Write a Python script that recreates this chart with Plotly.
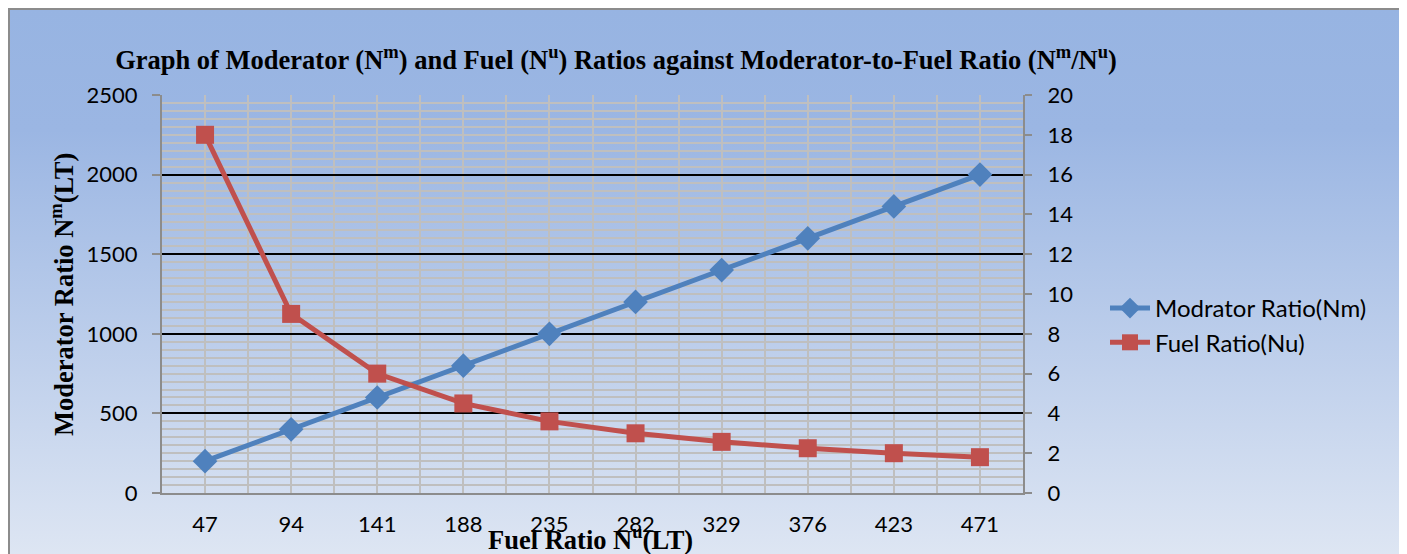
import base64
import plotly.graph_objects as go

categories = ["47", "94", "141", "188", "235", "282", "329", "376", "423", "471"]
moderator = [200, 400, 600, 800, 1000, 1200, 1400, 1600, 1800, 2000]
fuel = [18, 9, 6, 4.5, 3.6, 3, 2.57, 2.25, 2, 1.8]
left_ticks = [0, 500, 1000, 1500, 2000, 2500]
right_ticks = [0, 2, 4, 6, 8, 10, 12, 14, 16, 18, 20]

# page has an 8px body margin, so the figure is slightly smaller than the window
W, H = 1399, 546
L, R, T, B = 154, 1015, 87, 485
pw, ph = R - L, B - T

def px_x(px):
    return (px - L) / pw

def px_y(py):
    return (B - py) / ph

xs = list(range(len(categories)))

svg = (
    '<svg xmlns="http://www.w3.org/2000/svg" width="1399" height="546" viewBox="0 0 1399 546" preserveAspectRatio="none">'
    '<defs><linearGradient id="g" x1="0" y1="0" x2="0" y2="1">'
    '<stop offset="0" stop-color="#97B4E2"/><stop offset="0.22" stop-color="#9BB6E3"/>'
    '<stop offset="1" stop-color="#DEE6F3"/></linearGradient></defs>'
    '<rect x="1" y="1" width="1397" height="550" fill="url(#g)" stroke="#8C8C8C" stroke-width="2"/></svg>'
)
uri = "data:image/svg+xml;base64," + base64.b64encode(svg.encode()).decode()

sans = "Lato, Calibri, sans-serif"
tickfont = dict(family=sans, size=22, color="#000000")
serif = "Liberation Serif, Times New Roman, serif"

fig = go.Figure()
fig.add_trace(go.Scatter(
    x=xs, y=moderator, name="Modrator Ratio(Nm)", mode="lines+markers",
    line=dict(color="#4F81BD", width=5),
    marker=dict(symbol="diamond", size=19, color="#4F81BD"),
))
fig.add_trace(go.Scatter(
    x=xs, y=fuel, name="Fuel Ratio(Nu)", mode="lines+markers", yaxis="y2",
    line=dict(color="#C0504D", width=5),
    marker=dict(symbol="square", size=18, color="#C0504D"),
))

fig.update_layout(
    width=W, height=H,
    margin=dict(l=L, r=W - R, t=T, b=H - B),
    paper_bgcolor="white",
    plot_bgcolor="white",
    showlegend=True,
    images=[dict(
        source=uri, xref="paper", yref="paper",
        x=px_x(0), y=px_y(0), sizex=W / pw, sizey=H / ph,
        xanchor="left", yanchor="top", sizing="stretch", layer="below",
    )],
    title=dict(
        text="Graph of Moderator (N<sup>m</sup>) and Fuel (N<sup>u</sup>) Ratios against Moderator-to-Fuel Ratio (N<sup>m</sup>/N<sup>u</sup>)",
        font=dict(family=serif, size=26.5, color="#000000", weight="bold"),
        x=px_x(608), xref="paper", xanchor="center",
        y=1 - 52 / H, yref="container", yanchor="middle",
    ),
    xaxis=dict(
        range=[-0.5, len(categories) - 0.5],
        tickmode="array", tickvals=xs, ticktext=categories,
        tickfont=tickfont, ticks="", ticklabelstandoff=11,
        showline=True, linecolor="#8C8C8C", linewidth=2,
        showgrid=True, gridcolor="#BFBFBF", gridwidth=2, zeroline=False,
        minor=dict(tickmode="array", tickvals=[i - 0.5 for i in range(len(categories) + 1)],
                   showgrid=True, gridcolor="#BFBFBF", gridwidth=2),
        fixedrange=True,
    ),
    yaxis=dict(
        range=[0, 2500], tickmode="array", tickvals=left_ticks,
        tickfont=tickfont, ticks="outside", ticklen=8, tickcolor="#8C8C8C", tickwidth=2,
        ticklabelstandoff=10,
        showline=True, linecolor="#8C8C8C", linewidth=2,
        showgrid=True, gridcolor="#000000", gridwidth=2, zeroline=False,
        minor=dict(dtick=50, tick0=0, showgrid=True, gridcolor="#BFBFBF", gridwidth=2),
    ),
    yaxis2=dict(
        range=[0, 20], tickmode="array", tickvals=right_ticks, overlaying="y", side="right",
        tickfont=tickfont, ticks="outside", ticklen=7, tickcolor="#8C8C8C", tickwidth=2,
        ticklabelstandoff=11,
        showline=True, linecolor="#8C8C8C", linewidth=2, showgrid=False, zeroline=False,
    ),
    legend=dict(
        x=px_x(1097), y=px_y(278), xanchor="left", yanchor="top",
        bgcolor="rgba(0,0,0,0)", font=dict(family=sans, size=24, color="#000000"),
        itemwidth=40, tracegroupgap=2,
    ),
    annotations=[
        dict(text="Moderator Ratio N<sup>m</sup>(LT)", xref="paper", yref="paper",
             x=px_x(54), y=px_y(287), textangle=-90, showarrow=False,
             xanchor="center", yanchor="middle",
             font=dict(family=serif, size=26.5, color="#000000", weight="bold")),
        dict(text="Fuel Ratio N<sup>u</sup>(LT)", xref="paper", yref="paper",
             x=px_x(582), y=px_y(530), showarrow=False,
             xanchor="center", yanchor="middle",
             font=dict(family=serif, size=26.5, color="#000000", weight="bold")),
    ],
)

fig.write_html("out.html")
